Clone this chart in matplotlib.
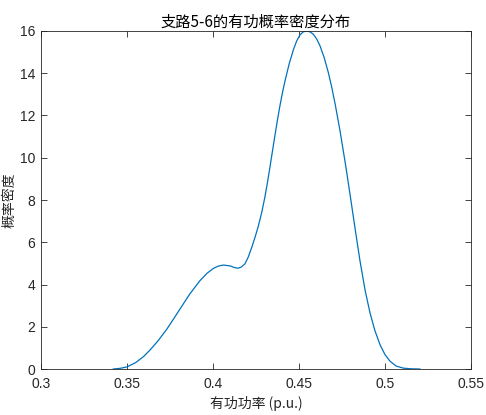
import matplotlib
matplotlib.use("Agg")
import matplotlib.pyplot as plt

plt.rcParams['font.family'] = ['Liberation Sans', 'Noto Sans CJK SC', 'DejaVu Sans']

x_vals = [0.342, 0.346, 0.350, 0.355, 0.3595, 0.3634, 0.368, 0.3731, 0.377, 0.3808, 0.3865,
          0.3924, 0.3965, 0.4002, 0.4030, 0.4060, 0.4100, 0.4125, 0.4147, 0.4165, 0.4186,
          0.4205, 0.4225, 0.4245, 0.4263, 0.4283, 0.4302, 0.4317, 0.4331, 0.4346, 0.4360,
          0.4375, 0.4390, 0.4405, 0.4419, 0.4443, 0.4467, 0.4486, 0.4506, 0.4525, 0.4545,
          0.4564, 0.4583, 0.4603, 0.4622, 0.4646, 0.4670, 0.4690, 0.4710, 0.4738, 0.4770,
          0.4797, 0.4826, 0.4855, 0.4885, 0.4913, 0.4942, 0.4971, 0.5000, 0.5029, 0.5065,
          0.5107, 0.5150, 0.5203]
y_vals = [0.0, 0.03, 0.1, 0.3, 0.58, 0.9, 1.33, 1.88, 2.36, 2.84, 3.55,
          4.18, 4.53, 4.76, 4.87, 4.92, 4.88, 4.80, 4.77, 4.83, 4.98,
          5.3, 5.75, 6.25, 6.75, 7.4, 8.15, 8.85, 9.55, 10.33, 11.05,
          11.8, 12.5, 13.13, 13.65, 14.45, 15.1, 15.52, 15.82, 15.96, 16.0,
          15.96, 15.85, 15.62, 15.3, 14.75, 14.05, 13.35, 12.55, 11.3, 9.7,
          8.25, 6.65, 5.1, 3.7, 2.65, 1.8, 1.15, 0.68, 0.37, 0.14,
          0.04, 0.01, 0.0]

x_ticks = [0.3, 0.35, 0.4, 0.45, 0.5, 0.55]
x_tick_labels = ['0.3', '0.35', '0.4', '0.45', '0.5', '0.55']
y_ticks = [0, 2, 4, 6, 8, 10, 12, 14, 16]

cjk = ['Noto Sans CJK SC', 'DejaVu Sans']

fig = plt.figure(figsize=(4.86, 4.15), dpi=100)
ax = fig.add_axes([41/486, 1-369/415, 430/486, 338/415])
ax.plot(x_vals, y_vals, color='#0072BD', linewidth=0.9)
ax.set_xlim(0.3, 0.55)
ax.set_ylim(0, 16)
ax.set_xticks(x_ticks)
ax.set_xticklabels(x_tick_labels)
ax.set_yticks(y_ticks)
ax.tick_params(direction='in', top=True, right=True, length=4, width=0.6,
               labelsize=10, colors='#262626', pad=4)
ax.tick_params(axis='x', pad=6)
for s in ax.spines.values():
    s.set_color('#262626')
    s.set_linewidth(0.6)
ax.set_title('支路5-6的有功概率密度分布', fontsize=11, color='#000000', pad=3,
             family=cjk)
ax.set_xlabel('有功功率 (p.u.)', fontsize=10, color='#262626', labelpad=3,
              family=cjk)
ax.set_ylabel('概率密度', fontsize=10, color='#262626', family=cjk)
ax.yaxis.set_label_coords(-0.058, 0.5)
fig.savefig('out.png', dpi=100)
